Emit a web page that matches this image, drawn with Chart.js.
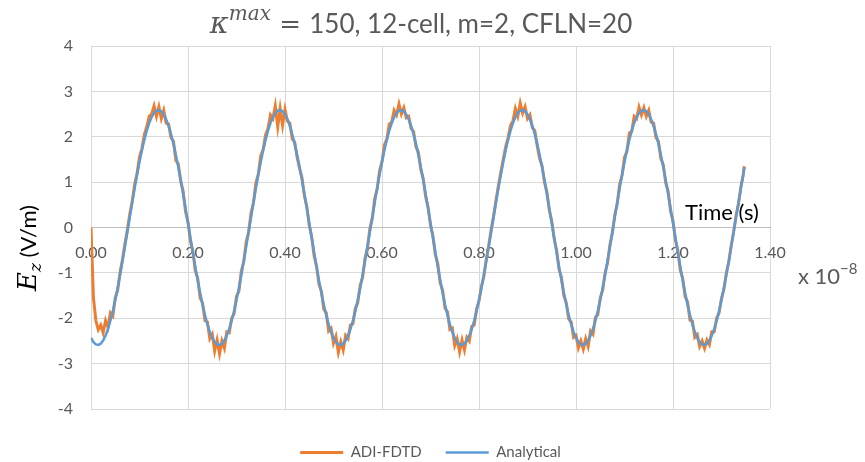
<!DOCTYPE html>
<html>
<head>
<meta charset="utf-8">
<script src="https://cdn.jsdelivr.net/npm/chart.js@4.4.1/dist/chart.umd.min.js"></script>
<style>
  html, body { margin: 0; padding: 0; background: #fff; }
</style>
</head>
<body>
<canvas id="chart" width="865" height="462"></canvas>
<script>
// Time axis in units of 1e-8 s
const timeNs = [
  0.000, 0.005, 0.010, 0.015, 0.020, 0.025, 0.030, 0.035, 0.040, 0.045,
  0.050, 0.055, 0.060, 0.065, 0.070, 0.075, 0.080, 0.085, 0.090, 0.095,
  0.100, 0.105, 0.110, 0.115, 0.120, 0.125, 0.130, 0.135, 0.140, 0.145,
  0.150, 0.155, 0.160, 0.165, 0.170, 0.175, 0.180, 0.185, 0.190, 0.195,
  0.200, 0.205, 0.210, 0.215, 0.220, 0.225, 0.230, 0.235, 0.240, 0.245,
  0.250, 0.255, 0.260, 0.265, 0.270, 0.275, 0.280, 0.285, 0.290, 0.295,
  0.300, 0.305, 0.310, 0.315, 0.320, 0.325, 0.330, 0.335, 0.340, 0.345,
  0.350, 0.355, 0.360, 0.365, 0.370, 0.375, 0.380, 0.385, 0.390, 0.395,
  0.400, 0.405, 0.410, 0.415, 0.420, 0.425, 0.430, 0.435, 0.440, 0.445,
  0.450, 0.455, 0.460, 0.465, 0.470, 0.475, 0.480, 0.485, 0.490, 0.495,
  0.500, 0.505, 0.510, 0.515, 0.520, 0.525, 0.530, 0.535, 0.540, 0.545,
  0.550, 0.555, 0.560, 0.565, 0.570, 0.575, 0.580, 0.585, 0.590, 0.595,
  0.600, 0.605, 0.610, 0.615, 0.620, 0.625, 0.630, 0.635, 0.640, 0.645,
  0.650, 0.655, 0.660, 0.665, 0.670, 0.675, 0.680, 0.685, 0.690, 0.695,
  0.700, 0.705, 0.710, 0.715, 0.720, 0.725, 0.730, 0.735, 0.740, 0.745,
  0.750, 0.755, 0.760, 0.765, 0.770, 0.775, 0.780, 0.785, 0.790, 0.795,
  0.800, 0.805, 0.810, 0.815, 0.820, 0.825, 0.830, 0.835, 0.840, 0.845,
  0.850, 0.855, 0.860, 0.865, 0.870, 0.875, 0.880, 0.885, 0.890, 0.895,
  0.900, 0.905, 0.910, 0.915, 0.920, 0.925, 0.930, 0.935, 0.940, 0.945,
  0.950, 0.955, 0.960, 0.965, 0.970, 0.975, 0.980, 0.985, 0.990, 0.995,
  1.000, 1.005, 1.010, 1.015, 1.020, 1.025, 1.030, 1.035, 1.040, 1.045,
  1.050, 1.055, 1.060, 1.065, 1.070, 1.075, 1.080, 1.085, 1.090, 1.095,
  1.100, 1.105, 1.110, 1.115, 1.120, 1.125, 1.130, 1.135, 1.140, 1.145,
  1.150, 1.155, 1.160, 1.165, 1.170, 1.175, 1.180, 1.185, 1.190, 1.195,
  1.200, 1.205, 1.210, 1.215, 1.220, 1.225, 1.230, 1.235, 1.240, 1.245,
  1.250, 1.255, 1.260, 1.265, 1.270, 1.275, 1.280, 1.285, 1.290, 1.295,
  1.300, 1.305, 1.310, 1.315, 1.320, 1.325, 1.330, 1.335, 1.340, 1.345,
  1.347
];

// Simulated field, ADI-FDTD (V/m)
const adiFdtd = [
  0.00, -1.55, -2.05, -2.25, -2.15, -2.32, -2.05, -2.20, -1.88, -1.95,
  -1.55, -1.38, -0.98, -0.70, -0.36, -0.05, 0.30, 0.58, 0.95, 1.20,
  1.55, 1.74, 2.05, 2.22, 2.45, 2.50, 2.68, 2.45, 2.66, 2.40,
  2.58, 2.30, 2.28, 1.98, 1.90, 1.48, 1.40, 1.02, 0.80, 0.35,
  0.12, -0.30, -0.52, -0.95, -1.12, -1.55, -1.66, -2.05, -2.08, -2.45,
  -2.35, -2.72, -2.48, -2.78, -2.50, -2.66, -2.30, -2.32, -2.00, -1.90,
  -1.52, -1.40, -0.96, -0.75, -0.32, -0.10, 0.32, 0.55, 0.98, 1.18,
  1.58, 1.72, 2.04, 2.18, 2.48, 2.40, 2.68, 2.22, 2.62, 2.25,
  2.60, 2.35, 2.30, 1.95, 1.88, 1.55, 1.30, 1.10, 0.70, 0.46,
  0.05, -0.20, -0.62, -0.85, -1.25, -1.40, -1.80, -1.88, -2.28, -2.22,
  -2.55, -2.40, -2.75, -2.52, -2.70, -2.38, -2.45, -2.15, -2.12, -1.78,
  -1.66, -1.28, -1.10, -0.68, -0.45, -0.02, 0.20, 0.64, 0.85, 1.25,
  1.45, 1.82, 1.95, 2.28, 2.32, 2.58, 2.48, 2.72, 2.50, 2.64,
  2.42, 2.45, 2.18, 2.12, 1.78, 1.66, 1.28, 1.08, 0.68, 0.45,
  0.05, -0.18, -0.60, -0.80, -1.22, -1.38, -1.78, -1.86, -2.25, -2.22,
  -2.60, -2.45, -2.74, -2.48, -2.70, -2.42, -2.50, -2.18, -2.15, -1.80,
  -1.62, -1.30, -1.08, -0.70, -0.40, -0.05, 0.25, 0.60, 0.92, 1.22,
  1.50, 1.78, 1.98, 2.25, 2.35, 2.62, 2.45, 2.74, 2.52, 2.66,
  2.40, 2.48, 2.20, 2.14, 1.80, 1.52, 1.36, 1.00, 0.78, 0.38,
  0.14, -0.25, -0.50, -0.92, -1.10, -1.50, -1.66, -2.02, -2.08, -2.42,
  -2.38, -2.65, -2.50, -2.68, -2.45, -2.62, -2.28, -2.35, -1.98, -1.92,
  -1.55, -1.38, -1.00, -0.78, -0.38, -0.12, 0.28, 0.52, 0.95, 1.15,
  1.55, 1.68, 2.08, 2.12, 2.45, 2.40, 2.65, 2.48, 2.64, 2.45,
  2.58, 2.32, 2.30, 1.98, 1.90, 1.52, 1.38, 0.98, 0.80, 0.36,
  0.15, -0.28, -0.50, -0.94, -1.12, -1.52, -1.64, -2.04, -2.06, -2.42,
  -2.36, -2.62, -2.50, -2.66, -2.48, -2.58, -2.30, -2.30, -2.00, -1.88,
  -1.56, -1.36, -1.00, -0.76, -0.40, -0.10, 0.26, 0.52, 0.90, 1.18,
  1.35
];

// Analytical field (V/m)
const analytical = [
  -2.431, -2.524, -2.577, -2.589, -2.561, -2.492, -2.383, -2.238, -2.056, -1.843,
  -1.600, -1.332, -1.044, -0.738, -0.421, -0.098, 0.227, 0.549, 0.862, 1.161,
  1.442, 1.701, 1.932, 2.133, 2.300, 2.431, 2.524, 2.577, 2.589, 2.561,
  2.492, 2.383, 2.238, 2.056, 1.843, 1.600, 1.332, 1.044, 0.738, 0.421,
  0.098, -0.227, -0.549, -0.862, -1.161, -1.442, -1.701, -1.932, -2.133, -2.300,
  -2.431, -2.524, -2.577, -2.589, -2.561, -2.492, -2.383, -2.238, -2.056, -1.843,
  -1.600, -1.332, -1.044, -0.738, -0.421, -0.098, 0.227, 0.549, 0.862, 1.161,
  1.442, 1.701, 1.932, 2.133, 2.300, 2.431, 2.524, 2.577, 2.589, 2.561,
  2.492, 2.383, 2.238, 2.056, 1.843, 1.600, 1.332, 1.044, 0.738, 0.421,
  0.098, -0.227, -0.549, -0.862, -1.161, -1.442, -1.701, -1.932, -2.133, -2.300,
  -2.431, -2.524, -2.577, -2.589, -2.561, -2.492, -2.383, -2.238, -2.056, -1.843,
  -1.600, -1.332, -1.044, -0.738, -0.421, -0.098, 0.227, 0.549, 0.862, 1.161,
  1.442, 1.701, 1.932, 2.133, 2.300, 2.431, 2.524, 2.577, 2.589, 2.561,
  2.492, 2.383, 2.238, 2.056, 1.843, 1.600, 1.332, 1.044, 0.738, 0.421,
  0.098, -0.227, -0.549, -0.862, -1.161, -1.442, -1.701, -1.932, -2.133, -2.300,
  -2.431, -2.524, -2.577, -2.589, -2.561, -2.492, -2.383, -2.238, -2.056, -1.843,
  -1.600, -1.332, -1.044, -0.738, -0.421, -0.098, 0.227, 0.549, 0.862, 1.161,
  1.442, 1.701, 1.932, 2.133, 2.300, 2.431, 2.524, 2.577, 2.589, 2.561,
  2.492, 2.383, 2.238, 2.056, 1.843, 1.600, 1.332, 1.044, 0.738, 0.421,
  0.098, -0.227, -0.549, -0.862, -1.161, -1.442, -1.701, -1.932, -2.133, -2.300,
  -2.431, -2.524, -2.577, -2.589, -2.561, -2.492, -2.383, -2.238, -2.056, -1.843,
  -1.600, -1.332, -1.044, -0.738, -0.421, -0.098, 0.227, 0.549, 0.862, 1.161,
  1.442, 1.701, 1.932, 2.133, 2.300, 2.431, 2.524, 2.577, 2.589, 2.561,
  2.492, 2.383, 2.238, 2.056, 1.843, 1.600, 1.332, 1.044, 0.738, 0.421,
  0.098, -0.227, -0.549, -0.862, -1.161, -1.442, -1.701, -1.932, -2.133, -2.300,
  -2.431, -2.524, -2.577, -2.589, -2.561, -2.492, -2.383, -2.238, -2.056, -1.843,
  -1.600, -1.332, -1.044, -0.738, -0.421, -0.098, 0.227, 0.549, 0.862, 1.161,
  1.33
];

const seriesNames = ['ADI-FDTD', 'Analytical'];
const seriesColors = ['#ED7D31', '#5B9BD5'];

const GRAY = '#595959';
const SERIF = '"DejaVu Serif", serif';
const SANS = 'Lato, "Open Sans", sans-serif';

// draws a list of text runs left to right, each with its own font and baseline shift
function drawRuns(ctx, runs, x, y) {
    let cx = x;
    for (const r of runs) {
        ctx.font = r.font;
        ctx.fillText(r.text, cx, y + (r.dy || 0));
        cx += ctx.measureText(r.text).width;
    }
}

function runsWidth(ctx, runs) {
    let w = 0;
    for (const r of runs) {
        ctx.font = r.font;
        w += ctx.measureText(r.text).width;
    }
    return w;
}

const chartLabels = {
    id: 'chartLabels',
    afterDraw(chart) {
        const { ctx } = chart;
        ctx.save();
        ctx.textAlign = 'left';
        ctx.textBaseline = 'alphabetic';
        ctx.fillStyle = GRAY;

        // title with kappa^max
        const title = [
            { text: 'κ', font: 'italic 29px ' + SERIF },
            { text: 'max', font: 'italic 20px ' + SERIF, dy: -13 },
            { text: ' = ', font: '26px ' + SERIF },
            { text: '150, 12-cell, m=2, CFLN=20', font: '26px ' + SANS }
        ];
        drawRuns(ctx, title, 421 - runsWidth(ctx, title) / 2, 33);

        // vertical axis title E_z (V/m)
        const yTitle = [
            { text: 'E', font: 'italic 26px ' + SERIF },
            { text: 'z', font: 'italic 17px ' + SERIF, dy: 5 },
            { text: ' (V/m)', font: '22px ' + SANS }
        ];
        ctx.save();
        ctx.translate(36, 248);
        ctx.rotate(-Math.PI / 2);
        ctx.fillStyle = '#000';
        drawRuns(ctx, yTitle, -runsWidth(ctx, yTitle) / 2, 0);
        ctx.restore();

        // axis title along the zero line
        ctx.fillStyle = '#000';
        ctx.font = '22px ' + SANS;
        ctx.fillText('Time (s)', 685, 220);

        // exponent of the time axis
        ctx.fillStyle = GRAY;
        drawRuns(ctx, [
            { text: 'x 10', font: '22px ' + SANS },
            { text: '−8', font: '15px ' + SANS, dy: -10 }
        ], 798, 284);

        ctx.restore();
    }
};

Chart.defaults.font.family = SANS;
Chart.defaults.color = GRAY;

new Chart(document.getElementById('chart'), {
    type: 'line',
    data: {
        labels: timeNs,
        datasets: [
            {
                label: seriesNames[0],
                data: adiFdtd,
                borderColor: seriesColors[0],
                backgroundColor: seriesColors[0],
                borderWidth: 3,
                pointRadius: 0,
                order: 1
            },
            {
                label: seriesNames[1],
                data: analytical,
                borderColor: seriesColors[1],
                backgroundColor: seriesColors[1],
                borderWidth: 2.5,
                pointRadius: 0,
                order: 0
            }
        ]
    },
    options: {
        responsive: false,
        animation: false,
        devicePixelRatio: 1,
        layout: {
            padding: { top: 46, right: 95, bottom: 0, left: 0 }
        },
        scales: {
            x: {
                type: 'linear',
                position: { y: 0 },
                min: 0,
                max: 1.4,
                ticks: {
                    stepSize: 0.2,
                    padding: 16,
                    maxRotation: 0,
                    font: { size: 16 },
                    callback: v => v.toFixed(2)
                },
                grid: {
                    color: '#d9d9d9',
                    drawTicks: false
                },
                border: {
                    color: '#bfbfbf'
                }
            },
            y: {
                min: -4,
                max: 4,
                ticks: {
                    stepSize: 1,
                    padding: 18,
                    font: { size: 16 }
                },
                grid: {
                    color: c => (c.tick && c.tick.value === 0 ? '#bfbfbf' : '#d9d9d9'),
                    drawTicks: false
                },
                border: {
                    color: '#d9d9d9'
                },
                afterFit(scale) {
                    scale.width = 91;
                }
            }
        },
        plugins: {
            legend: {
                position: 'bottom',
                fullSize: false,
                maxHeight: 53,
                title: {
                    display: true,
                    text: '',
                    padding: 0,
                    font: { size: 10 }
                },
                labels: {
                    usePointStyle: true,
                    pointStyle: 'line',
                    pointStyleWidth: 43,
                    padding: 24,
                    color: GRAY,
                    font: { size: 15 },
                    sort: (a, b) => a.datasetIndex - b.datasetIndex
                }
            },
            tooltip: { enabled: false }
        }
    },
    plugins: [chartLabels]
});
</script>
</body>
</html>
